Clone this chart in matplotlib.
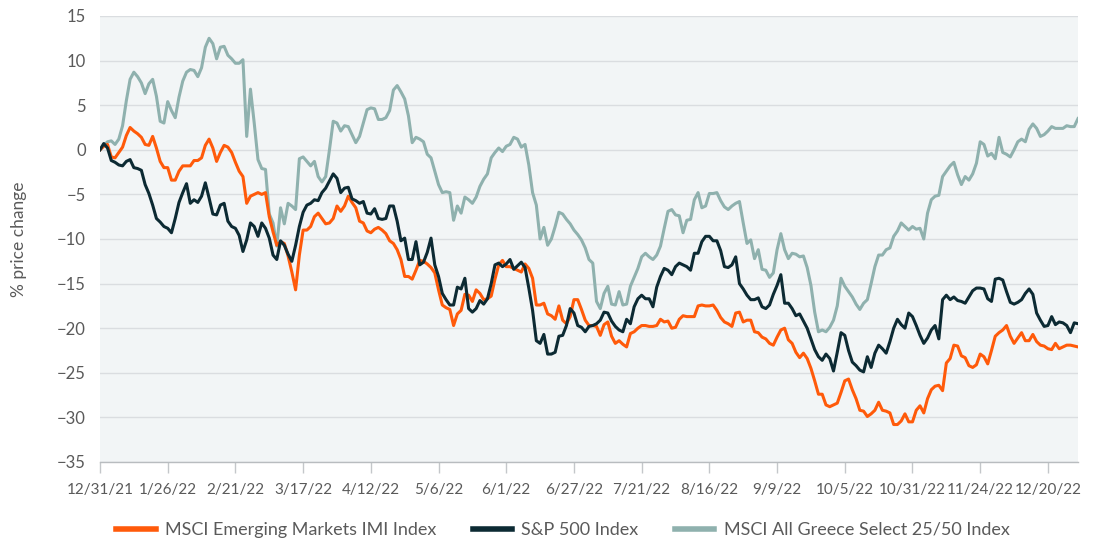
import numpy as np
import pandas as pd
import matplotlib
matplotlib.use("Agg")
import matplotlib.pyplot as plt

# trading days (weekdays) from 12/31/21 to 12/30/22
dates = pd.bdate_range("2021-12-31", "2022-12-30")

# % price change, one value per weekday
em = [
    0.0, 0.4, 0.6, -0.8, -0.9, -0.3, 0.3, 1.6, 2.5, 2.1, 1.8, 1.4, 0.6, 0.5, 1.5, 0.2, -1.3, -2.0, -2.0, -3.4, -3.4, -2.4,
    -1.8, -1.8, -1.8, -1.2, -1.2, -0.9, 0.5, 1.2, 0.2, -1.3, -0.3, 0.5, 0.3, -0.3, -1.4, -2.4, -3.0, -6.0, -5.2, -5.0, -4.8, -5.0,
    -4.8, -7.5, -9.2, -10.7, -10.3, -10.5, -11.9, -13.7, -15.7, -11.8, -9.0, -9.0, -8.6, -7.5, -7.1, -7.7, -8.3, -8.2,
    -7.7, -6.3, -6.9, -6.3, -5.2, -5.9, -6.5, -8.0, -8.2, -9.1, -9.3, -8.9, -8.7, -9.0, -9.4, -10.2, -10.5, -11.2, -12.3,
    -14.2, -14.2, -14.5, -13.5, -12.4, -12.5,
    -12.8, -13.2, -13.8, -15.7, -17.4, -17.7, -17.9, -19.7, -18.4, -18.0, -16.2, -16.3, -17.0, -15.7, -16.1, -16.8, -16.7,
    -16.4, -14.5, -12.9, -12.4, -13.1, -13.1, -13.3, -13.5, -13.7, -12.8, -13.3, -14.4, -17.4, -17.4, -17.2, -18.4, -18.6,
    -19.0, -17.5, -19.1, -19.5, -18.7, -16.8, -16.8, -17.9, -19.1, -19.7,
    -19.7, -19.8, -20.8, -19.6, -19.3, -20.9, -21.7, -21.4, -21.8, -22.1, -20.6, -20.4, -20.0, -19.7, -19.7, -19.8, -19.8,
    -19.7, -19.0, -19.3, -19.2, -20.0, -19.9, -19.0, -18.6, -18.7, -18.7, -18.7, -17.5, -17.4, -17.5, -17.5, -17.4, -18.0,
    -18.8, -19.3, -19.5, -19.8, -18.3, -18.2, -19.3, -19.1, -19.1, -20.4,
    -20.5, -21.0, -21.2, -21.7, -21.9, -21.0, -20.2, -20.0, -21.3, -21.7, -22.7, -23.3, -22.8, -23.4, -24.5, -25.9, -27.4,
    -27.4, -28.6, -28.8, -28.6, -28.4, -27.2, -25.9, -25.7, -26.9, -27.9, -29.2, -29.3, -29.9, -29.6, -29.2, -28.3, -29.2,
    -29.3, -29.5, -30.8, -30.8, -30.4, -29.6, -30.5, -30.5, -29.2,
    -28.7, -29.5, -27.9, -26.9, -26.5, -26.4, -27.0, -23.9, -23.4, -21.9, -22.0, -23.1, -23.3, -24.2, -24.4, -24.1, -22.9,
    -23.2, -24.0, -22.5, -20.9, -20.5, -20.2, -19.7, -20.9, -21.7, -21.1, -20.5, -21.4, -21.4, -20.7, -21.5, -21.9, -22.0,
    -22.3, -22.4, -21.7, -22.3, -22.1, -21.9, -21.9, -22.0, -22.1,
]

spx = [
    0.0, 0.7, 0.2, -1.2, -1.4, -1.7, -1.8, -1.3, -1.1, -2.0, -2.1, -2.3, -3.9, -4.9, -6.2, -7.7, -8.1, -8.6, -8.8, -9.3,
    -7.7, -5.9, -4.8, -3.8, -6.0, -5.6, -5.9, -5.2, -3.7, -5.4, -7.2, -7.3, -6.2, -6.0, -8.0, -8.6, -8.8, -9.6, -11.4,
    -10.1, -8.2, -8.6, -9.7, -8.2,
    -8.8, -9.9, -11.8, -12.3, -10.2, -10.7, -11.7, -12.5, -10.7, -8.6, -7.0, -6.2, -6.0, -5.6, -5.7, -4.8, -4.3, -3.5,
    -2.7, -3.2, -4.8, -4.3, -4.2, -5.5, -5.7, -6.0, -5.8, -7.1, -7.2, -6.6, -7.7, -7.8, -7.7, -6.3, -6.3, -8.0, -10.2,
    -9.9, -12.3, -12.3, -10.3, -12.9, -12.6,
    -11.5, -9.9, -12.9, -14.2, -16.1, -16.8, -17.4, -17.4, -15.4, -15.6, -14.4, -17.8, -18.2, -17.8, -16.9, -17.3, -16.7,
    -15.0, -12.9, -12.7, -13.1, -12.8, -12.3, -13.4, -13.0, -12.6, -13.2, -15.5, -18.0, -21.4, -21.7, -20.7, -22.9, -22.9,
    -22.7, -20.9, -20.8, -19.7, -17.8, -18.3, -19.7, -19.9, -20.4, -19.8,
    -19.7, -19.5, -19.1, -18.2, -18.3, -19.2, -19.8, -20.2, -20.4, -19.0, -19.5, -17.6, -16.7, -16.3, -16.7, -16.7, -17.6,
    -15.4, -14.2, -13.3, -13.5, -14.0, -13.1, -12.7, -12.9, -13.1, -13.5, -11.6, -11.6, -10.3, -9.7, -9.7, -10.2, -10.2,
    -11.3, -13.1, -13.2, -12.9, -12.0, -15.0, -15.6, -16.3, -16.8, -16.8,
    -16.6, -17.6, -17.8, -17.4, -16.2, -15.2, -14.0, -17.2, -17.2, -17.8, -18.6, -18.4, -19.2, -20.0, -21.2, -22.4, -23.2,
    -23.6, -22.9, -23.4, -24.8, -22.7, -20.5, -20.8, -22.5, -23.8, -24.2, -24.7, -24.9, -23.2, -24.4, -22.8, -21.9, -22.3,
    -22.8, -21.5, -20.0, -19.0, -19.6, -20.0, -18.3, -18.7, -19.7,
    -20.8, -21.7, -21.1, -20.2, -19.7, -21.2, -16.8, -16.3, -16.8, -16.5, -16.9, -17.0, -17.2, -16.5, -15.8, -15.5, -15.5,
    -15.6, -16.7, -17.0, -14.5, -14.4, -14.6, -15.9, -17.1, -17.3, -17.1, -16.8, -16.1, -15.6, -16.2, -18.3, -19.1, -19.8,
    -19.7, -18.7, -19.6, -19.3, -19.4, -19.7, -20.5, -19.4, -19.5,
]

greece = [
    0.0, 0.5, 0.9, 1.0, 0.6, 1.2, 2.7, 5.5, 7.9, 8.7, 8.2, 7.5, 6.3, 7.4, 7.9, 6.0, 3.2, 3.0, 5.4, 4.4, 3.6, 5.9, 7.7,
    8.7, 9.0, 8.9, 8.2, 9.2, 11.5, 12.5, 11.9, 10.2, 11.5, 11.6, 10.6, 10.2, 9.7, 9.7, 10.1, 1.5, 6.8, 3.0, -1.1, -2.1,
    -2.2, -7.2, -8.2, -10.8, -6.5, -8.3, -6.0, -6.3, -6.7, -1.0, -0.8, -1.3, -1.8, -1.3, -3.0, -3.6, -3.0, 0.0, 3.2, 3.0,
    2.1, 2.7, 2.6, 1.7, 0.8, 1.5, 3.0, 4.5, 4.7, 4.6, 3.4, 3.4, 3.6, 4.4, 6.7, 7.2, 6.5, 5.7, 3.8, 0.8, 1.4, 1.2, 0.9,
    -0.5, -0.9, -2.4, -3.9, -4.8, -4.7, -4.8, -7.9, -6.3, -7.1, -5.3, -5.6, -6.0, -5.3, -4.1, -3.3, -2.7, -0.9, -0.3, 0.2,
    -0.2, 0.4, 0.6, 1.4, 1.2, 0.3, 0.6, -1.7, -4.8, -6.2, -10.0, -8.7, -10.7, -10.0, -8.6, -7.0, -7.2, -7.8, -8.3, -9.0,
    -9.5, -10.1, -11.0, -12.3,
    -12.7, -17.0, -17.8, -16.1, -15.3, -17.3, -17.4, -15.9, -17.4, -17.3, -15.3, -14.3, -13.3, -12.0, -11.6, -12.0, -12.3,
    -11.8, -10.8, -8.8, -6.9, -6.7, -7.3, -7.4, -9.3, -7.9, -7.8, -5.6, -4.8, -6.5, -6.3, -4.9, -4.9, -4.8, -5.7, -6.4,
    -6.7, -6.3, -6.0, -5.8, -8.2, -10.5, -10.1, -12.2,
    -11.2, -13.4, -13.5, -14.3, -13.8, -11.2, -9.4, -11.2, -12.2, -11.6, -11.7, -12.0, -11.9, -13.2, -15.2, -18.2, -20.4,
    -20.2, -20.4, -19.9, -19.1, -17.5, -14.4, -15.3, -15.9, -16.5, -17.3, -17.9, -17.2, -16.8, -15.0, -13.1, -11.8, -11.8,
    -11.2, -11.0, -9.7, -9.1, -8.2, -8.6, -9.0, -8.6, -8.9,
    -8.8, -10.0, -7.1, -5.6, -5.2, -5.1, -3.0, -2.4, -1.8, -1.4, -2.8, -3.9, -3.0, -3.4, -2.7, -1.5, 0.9, 0.6, -0.7, -0.4,
    -1.0, 1.4, -0.3, -0.5, -0.8, 0.0, 0.9, 1.2, 0.9, 2.3, 2.9, 2.4, 1.5, 1.7, 2.1, 2.6, 2.4, 2.4, 2.4, 2.7, 2.6, 2.6, 3.5,
]

names = ["MSCI Emerging Markets IMI Index", "S&P 500 Index", "MSCI All Greece Select 25/50 Index"]
colors = ["#ff5a0a", "#0c2a33", "#8fb1ae"]

plt.rcParams["font.family"] = ["Lato", "DejaVu Sans"]
txt = "#5a5a5a"

fig = plt.figure(figsize=(10.93, 5.43), dpi=100)
ax = fig.add_axes([100 / 1093, 1 - 462 / 543, 978 / 1093, 446 / 543])
ax.set_facecolor("#f2f5f6")

handles = []
for s, c, n, z in [(greece, colors[2], names[2], 2), (em, colors[0], names[0], 3), (spx, colors[1], names[1], 4)]:
    h, = ax.plot(np.arange(len(s)), s, color=c, lw=2.2, label=n, zorder=z, solid_joinstyle="round")
    handles.append(h)

ax.set_xlim(0, len(dates) - 1)
ax.set_ylim(-35, 15)
ax.set_yticks(np.arange(-35, 16, 5))
ax.set_yticklabels([f"{v}".replace("-", "\u2212") for v in range(-35, 16, 5)])
tick_idx = np.arange(0, len(dates), 18)
ax.set_xticks(tick_idx)
ax.set_xticklabels([f"{dates[i].month}/{dates[i].day}/{dates[i].strftime('%y')}" for i in tick_idx])

ax.grid(axis="y", color="#dadde0", lw=1.0)
ax.set_axisbelow(True)
for sp in ["top", "right", "left"]:
    ax.spines[sp].set_visible(False)
ax.spines["bottom"].set_color("#b8bcbf")
ax.spines["bottom"].set_linewidth(1.0)
ax.tick_params(axis="y", length=0, pad=10, labelsize=12, labelcolor=txt)
ax.tick_params(axis="x", length=8, width=1, color="#c4c7ca", pad=7, labelsize=11, labelcolor=txt)

ax.set_ylabel("% price change", fontsize=12.5, color=txt, labelpad=22)

order = [handles[1], handles[2], handles[0]]
leg = fig.legend(order, [h.get_label() for h in order], loc="center", bbox_to_anchor=(0.515, 0.024),
                 ncol=3, frameon=False, fontsize=13, handlelength=2.2, handletextpad=0.5,
                 columnspacing=2.0, labelcolor=txt)
for l in leg.get_lines():
    l.set_linewidth(4)

fig.savefig("out.png", dpi=100)
